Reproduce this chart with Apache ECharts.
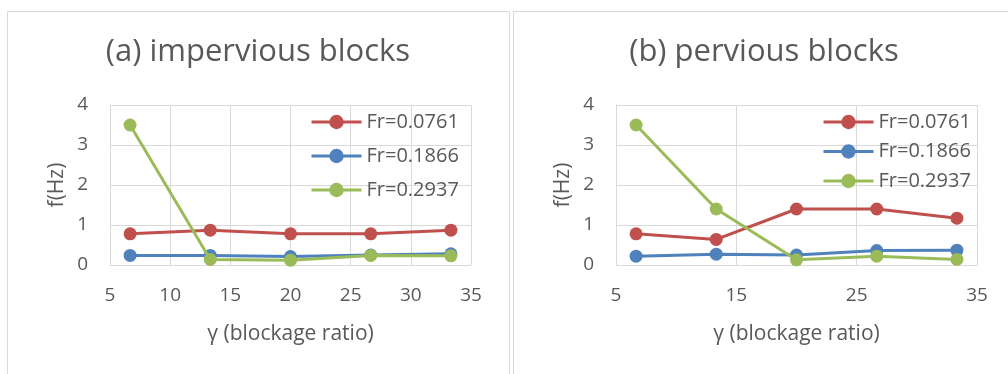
<!DOCTYPE html>
<html>
<head>
<meta charset="utf-8">
<script src="https://cdn.jsdelivr.net/npm/echarts@6/dist/echarts.min.js"></script>
<style>
  html, body { margin: 0; padding: 0; background: #ffffff; }
  #chart { width: 1008px; height: 374px; }
</style>
</head>
<body>
<div id="chart"></div>
<script>
// Blockage ratio γ (%) shared by every series
const gammaValues = [6.67, 13.33, 20, 26.67, 33.33];

// Froude numbers, one series per value
const seriesNames = ['Fr=0.0761', 'Fr=0.1866', 'Fr=0.2937'];
const seriesColors = ['#C0504D', '#4F81BD', '#9BBB59'];

// (a) impervious blocks: shedding frequency f (Hz)
const imperviousFr0761 = [0.78, 0.87, 0.78, 0.78, 0.87];
const imperviousFr1866 = [0.24, 0.24, 0.21, 0.25, 0.28];
const imperviousFr2937 = [3.5, 0.14, 0.12, 0.24, 0.23];

// (b) pervious blocks: shedding frequency f (Hz)
const perviousFr0761 = [0.78, 0.64, 1.4, 1.4, 1.17];
const perviousFr1866 = [0.22, 0.27, 0.25, 0.36, 0.37];
const perviousFr2937 = [3.5, 1.4, 0.13, 0.22, 0.14];

const panelTitles = ['(a) impervious blocks', '(b) pervious blocks'];
const xAxisTitle = 'γ (blockage ratio)';
const yAxisTitle = 'f(Hz)';

const FONT = '"Open Sans", "Noto Sans", sans-serif';
const TEXT = '#595959';
const GRIDLINE = '#d9d9d9';

const panels = [
  { series: [imperviousFr0761, imperviousFr1866, imperviousFr2937], xInterval: 5,
    grid: { left: 110, top: 105, width: 361, height: 160 },
    titleX: 258, legendLeft: 310, legendGap: 14 },
  { series: [perviousFr0761, perviousFr1866, perviousFr2937], xInterval: 10,
    grid: { left: 616, top: 105, width: 361, height: 160 },
    titleX: 764, legendLeft: 822, legendGap: 9.5 }
];

const pairs = (ys) => gammaValues.map((g, i) => [g, ys[i]]);

const option = {
  backgroundColor: '#ffffff',
  animation: false,
  textStyle: { fontFamily: FONT },
  graphic: [
    { type: 'rect', shape: { x: 7.5, y: 11.5, width: 502, height: 420 },
      style: { fill: 'none', stroke: GRIDLINE, lineWidth: 1 }, silent: true },
    { type: 'rect', shape: { x: 513.5, y: 11.5, width: 520, height: 420 },
      style: { fill: 'none', stroke: GRIDLINE, lineWidth: 1 }, silent: true }
  ],
  title: panels.map((p, i) => ({
    text: panelTitles[i],
    left: p.titleX, top: 52, padding: 0,
    textAlign: 'center', textVerticalAlign: 'middle',
    textStyle: { fontFamily: FONT, fontSize: 31, fontWeight: 'normal', color: TEXT }
  })),
  legend: panels.map((p) => ({
    orient: 'vertical',
    left: p.legendLeft, top: 112, padding: 0,
    itemWidth: 50, itemHeight: 18, itemGap: p.legendGap,
    data: seriesNames,
    lineStyle: { width: 3 },
    textStyle: { fontFamily: FONT, fontSize: 20, color: TEXT }
  })),
  grid: panels.map((p) => Object.assign({ containLabel: false }, p.grid)),
  xAxis: panels.map((p, i) => ({
    type: 'value', gridIndex: i, min: 5, max: 35, interval: p.xInterval,
    name: xAxisTitle, nameLocation: 'middle', nameGap: 59,
    nameTextStyle: { fontFamily: FONT, fontSize: 21, color: TEXT },
    axisLine: { show: true, lineStyle: { color: GRIDLINE, width: 1 } },
    axisTick: { show: false },
    axisLabel: { color: TEXT, fontFamily: FONT, fontSize: 19, margin: 21 },
    splitLine: { show: true, lineStyle: { color: GRIDLINE, width: 1 } }
  })),
  yAxis: panels.map((p, i) => ({
    type: 'value', gridIndex: i, min: 0, max: 4, interval: 1,
    name: yAxisTitle, nameLocation: 'middle', nameGap: 42, nameRotate: 90,
    nameTextStyle: { fontFamily: FONT, fontSize: 21, color: TEXT },
    axisLine: { show: true, lineStyle: { color: GRIDLINE, width: 1 } },
    axisTick: { show: false },
    axisLabel: { color: TEXT, fontFamily: FONT, fontSize: 19, margin: 22 },
    splitLine: { show: true, lineStyle: { color: GRIDLINE, width: 1 } }
  })),
  series: panels.flatMap((p, i) => p.series.map((ys, k) => ({
    type: 'line',
    name: seriesNames[k],
    xAxisIndex: i, yAxisIndex: i,
    data: pairs(ys),
    symbol: 'circle', symbolSize: 13,
    lineStyle: { color: seriesColors[k], width: 3 },
    itemStyle: { color: seriesColors[k] },
    z: 2 + k
  })))
};

const chart = echarts.init(document.getElementById('chart'), null, { renderer: 'canvas' });
chart.setOption(option);
</script>
</body>
</html>
